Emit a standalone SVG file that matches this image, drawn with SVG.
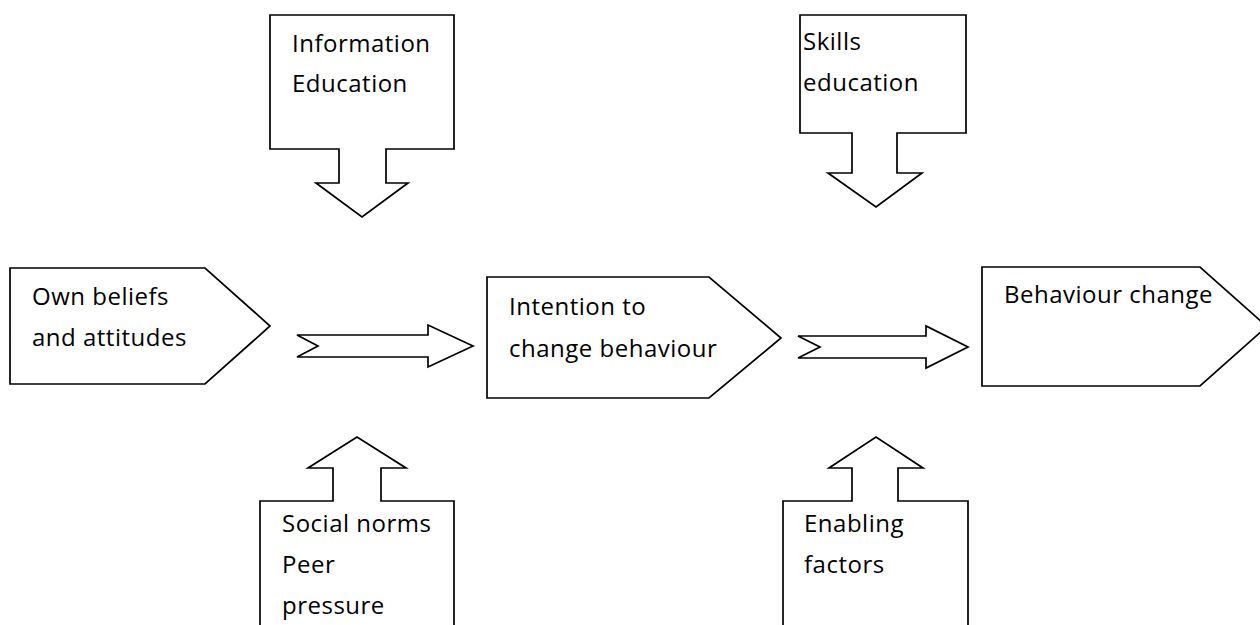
<svg xmlns="http://www.w3.org/2000/svg" width="1260" height="625" viewBox="0 0 1260 625">
<style>
.s{fill:#fff;stroke:#000;stroke-width:1.7;stroke-linejoin:miter}
.t{font-family:"Open Sans","Liberation Sans",sans-serif;font-size:24px;letter-spacing:0.5px;fill:#000}
</style>
<rect width="1260" height="625" fill="#fff"/>
<g id="info-education">
<path class="s" d="M270,15 H454 V149 H386 V183 H408 L362,217 L316,183 H339 V149 H270 Z"/>
<text class="t" x="292" y="52">Information</text>
<text class="t" x="292" y="92">Education</text>
</g>
<g id="skills-education">
<path class="s" d="M800,15 H966 V133 H897 V173 H922 L876,207 L828,173 H852 V133 H800 Z"/>
<text class="t" x="803" y="50">Skills</text>
<text class="t" x="803" y="91">education</text>
</g>
<g id="own-beliefs">
<path class="s" d="M10,268 H205 L270,326 L205,384 H10 Z"/>
<text class="t" x="32" y="305">Own beliefs</text>
<text class="t" x="32" y="346">and attitudes</text>
</g>
<g id="intention">
<path class="s" d="M487,277 H709 L781,338 L709,398 H487 Z"/>
<text class="t" x="509" y="315">Intention to</text>
<text class="t" x="509" y="357">change behaviour</text>
</g>
<g id="behaviour-change">
<path class="s" d="M982,267 H1200 L1267,326.5 L1200,386 H982 Z"/>
<text class="t" x="1004" y="303">Behaviour change</text>
</g>
<g id="social-norms">
<path class="s" d="M260,640 V501 H333 V468 H308 L357,437 L406,468 H381 V501 H454 V640"/>
<text class="t" x="282" y="532">Social norms</text>
<text class="t" x="282" y="573">Peer</text>
<text class="t" x="282" y="614">pressure</text>
</g>
<g id="enabling-factors">
<path class="s" d="M783,640 V501 H852 V468 H829 L876,437 L923,468 H898 V501 H968 V640"/>
<text class="t" x="804" y="532">Enabling</text>
<text class="t" x="804" y="573">factors</text>
</g>
<g id="connectors">
<path class="s" d="M297,335 H428 V325 L473,346 L428,367 V357 H297 L318,346 Z"/>
<path class="s" d="M798,336 H926 V326 L968,347 L926,368 V358 H798 L820,347 Z"/>
</g>
</svg>
